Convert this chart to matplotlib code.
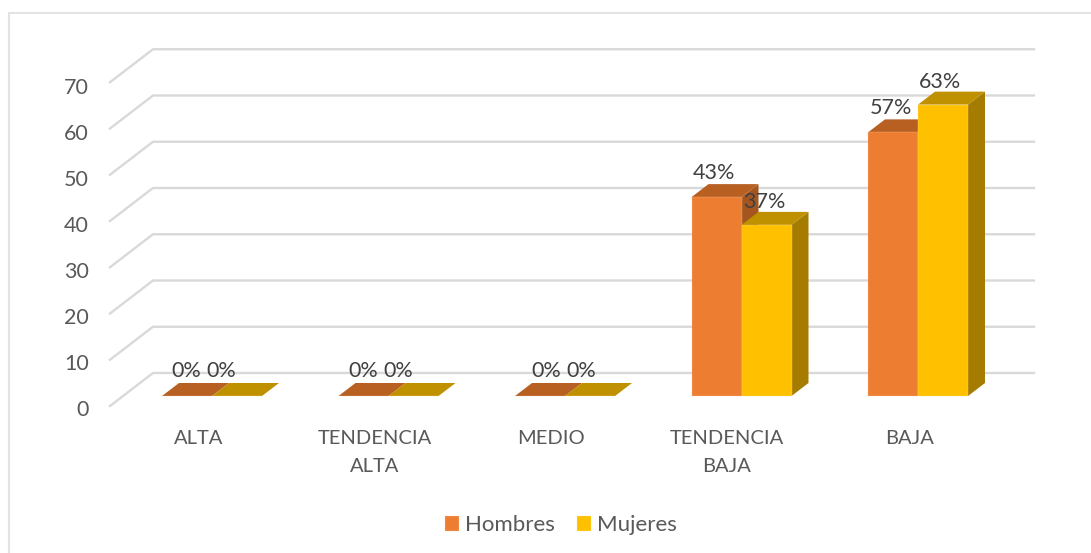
import matplotlib
matplotlib.use('Agg')
import matplotlib.pyplot as plt
from matplotlib.patches import Polygon

plt.rcParams['font.family'] = ['Lato', 'DejaVu Sans']

categorias = ['ALTA', 'TENDENCIA\nALTA', 'MEDIO', 'TENDENCIA\nBAJA', 'BAJA']
hombres = [0, 0, 0, 43, 57]
mujeres = [0, 0, 0, 37, 63]
ticks = [0, 10, 20, 30, 40, 50, 60, 70]

W, H = 1091, 553
x0, xstep = 212, 176.5   # pixel of first category, pixels per category
y0, ystep = 396, 4.625   # pixel of value 0, pixels per unit

fig = plt.figure(figsize=(W/100, H/100), dpi=100)
ax = fig.add_axes([0, 0, 1, 1])
ax.set_xlim(-x0/xstep, (W-x0)/xstep)
ax.set_ylim(-(H-y0)/ystep, y0/ystep)
ax.axis('off')

px = 1/xstep
py = 1/ystep
gris = '#D9D9D9'
texto = '#595959'
etiqueta = '#404040'

# marco: solo arriba y a la izquierda
ax.plot([(9-x0)*px, (9-x0)*px, (W-x0)*px], [(y0-H)*py, (y0-13)*py, (y0-13)*py],
        color='#E3E3E3', lw=1.5, zorder=1, solid_joinstyle='miter')

# rejilla y pared
for t in ticks:
    ax.plot([(110-x0)*px, (153-x0)*px, (1034-x0)*px], [t-10*py, t+23*py, t+23*py],
            color=gris, lw=1.7, zorder=2, solid_joinstyle='miter')
    ax.text((89-x0)*px, t*0.9925-13.8*py, str(t), ha='right', va='center', fontsize=15.5, color=texto, zorder=6)

# barras
ancho = 50*px
dx = 17*px
dy = 13*py


def barra3d(x, v, arriba, lado, z):
    ax.add_patch(Polygon([(x+ancho, 0), (x+ancho+dx, dy), (x+ancho+dx, v+dy), (x+ancho, v)],
                         fc=lado, ec='none', zorder=z))
    ax.add_patch(Polygon([(x, v), (x+dx, v+dy), (x+ancho+dx, v+dy), (x+ancho, v)],
                         fc=arriba, ec='none', zorder=z))


for i in range(len(categorias)):
    barra3d(i-ancho, hombres[i], '#B85F22', '#A5561F', 3)
    barra3d(i, mujeres[i], '#BF9000', '#A67C00', 4)

b1 = ax.bar([i-ancho/2 for i in range(5)], hombres, ancho, color='#ED7D31', edgecolor='#F8CBAD', lw=0.2,
            zorder=3.5, label='Hombres')
b2 = ax.bar([i+ancho/2 for i in range(5)], mujeres, ancho, color='#FFC000', edgecolor='#FFE699', lw=0.2,
            zorder=4.5, label='Mujeres')

# etiquetas
desplaz = [-13, -13.5, -14, -14.5, -8]
cero_x = [0, 0, 7]
for i in range(len(categorias)):
    if hombres[i] == 0:
        ax.text(i+(-25.5+cero_x[i])*px, 25*py, f'{hombres[i]}%', ha='center', va='center',
                fontsize=15.5, color=etiqueta, zorder=7)
        ax.text(i+(9.5+cero_x[i])*px, 25*py, f'{mujeres[i]}%', ha='center', va='center',
                fontsize=15.5, color=etiqueta, zorder=7)
    else:
        ax.text(i-ancho*0.55, hombres[i]+24*py, f'{hombres[i]}%', ha='center', va='center',
                fontsize=15.5, color=etiqueta, zorder=7)
        ax.text(i+ancho*0.45, mujeres[i]+23*py, f'{mujeres[i]}%', ha='center', va='center',
                fontsize=15.5, color=etiqueta, zorder=7)
    ax.text(i+desplaz[i]*px, -34*py, categorias[i], ha='center', va='top', fontsize=14.5,
            color=texto, linespacing=1.75, zorder=6)

leg = ax.legend(handles=[b1, b2], loc='center', bbox_to_anchor=(561/W, 1-525/H), ncol=2, frameon=False,
                fontsize=16, handlelength=0.64, handleheight=0.64, handletextpad=0.27, columnspacing=1.0,
                labelcolor=texto, borderpad=0)

fig.savefig('out.png', dpi=100)
